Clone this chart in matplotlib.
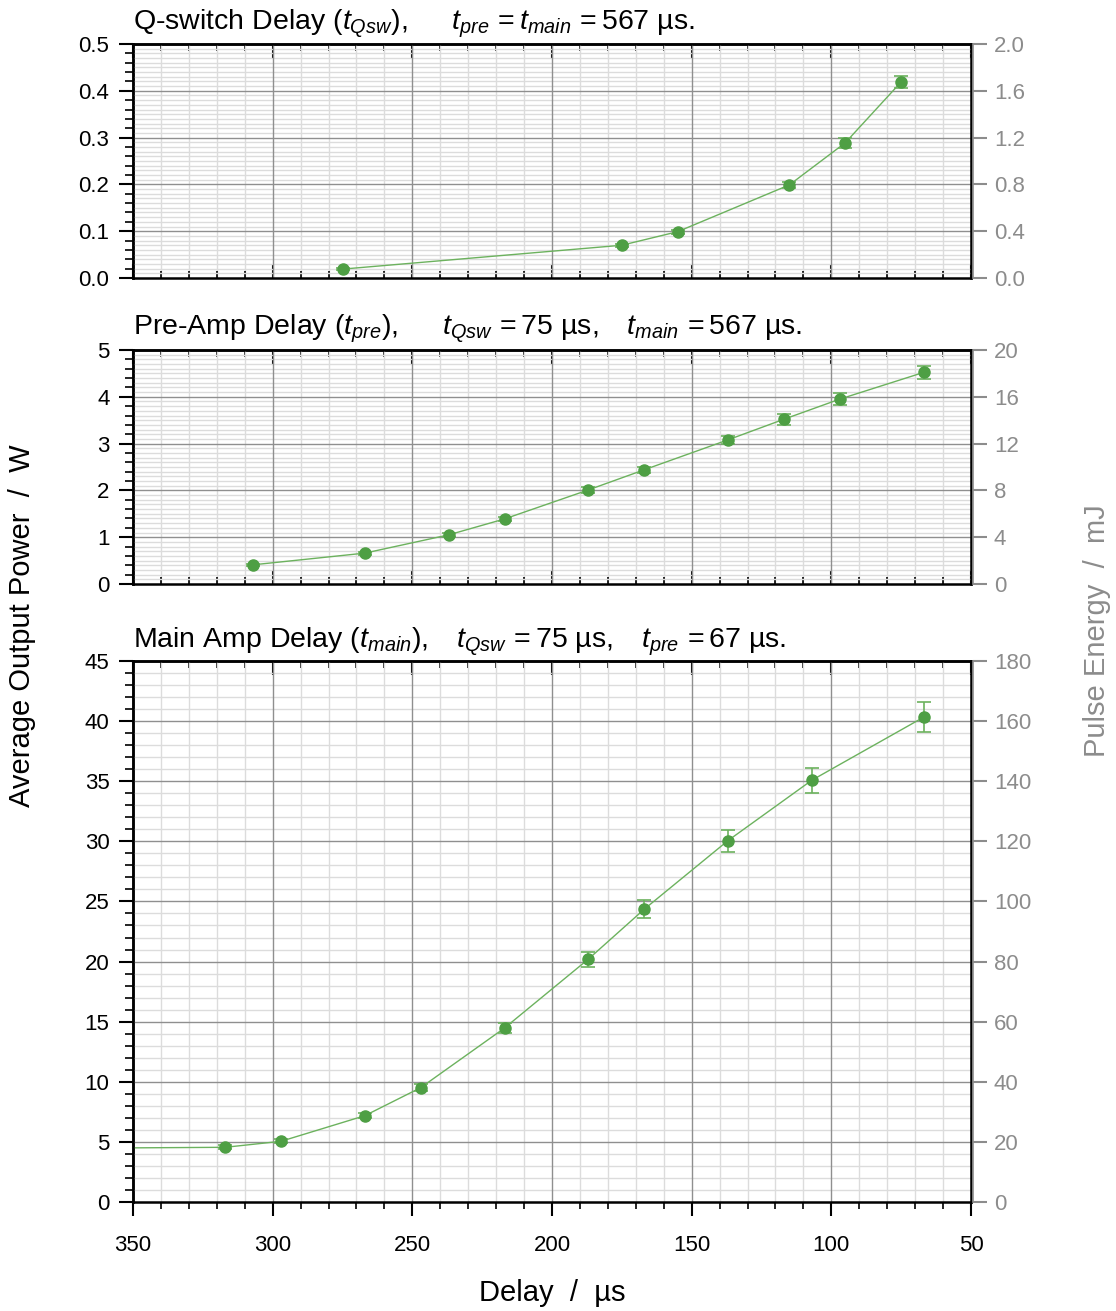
import numpy as np
import matplotlib
matplotlib.use("Agg")
import matplotlib.pyplot as plt
from matplotlib.ticker import (MultipleLocator, FixedLocator, FormatStrFormatter,
                               NullLocator)

plt.rcParams["font.family"] = ["Liberation Sans", "DejaVu Sans"]
plt.rcParams["mathtext.fontset"] = "custom"
plt.rcParams["mathtext.rm"] = "Liberation Sans"
plt.rcParams["mathtext.it"] = "Liberation Sans:italic"
plt.rcParams["mathtext.default"] = "it"

# --- Q-switch delay scan (t_pre = t_main = 567 us) ---
qsw_delay = [275, 175, 155, 115, 95, 75]
qsw_power = [0.019, 0.070, 0.099, 0.199, 0.289, 0.419]
qsw_err = [0.002, 0.003, 0.004, 0.007, 0.011, 0.013]

# --- Pre-amplifier delay scan (t_Qsw = 75 us, t_main = 567 us) ---
pre_delay = [307, 267, 237, 217, 187, 167, 137, 117, 97, 67]
pre_power = [0.41, 0.66, 1.05, 1.39, 2.01, 2.44, 3.08, 3.52, 3.95, 4.52]
pre_err = [0.02, 0.03, 0.04, 0.05, 0.06, 0.07, 0.09, 0.12, 0.13, 0.14]

# --- Main amplifier delay scan (t_Qsw = 75 us, t_pre = 67 us) ---
main_delay = [367, 317, 297, 267, 247, 217, 187, 167, 137, 107, 67]
main_power = [4.48, 4.55, 5.05, 7.18, 9.51, 14.47, 20.2, 24.35, 30.06, 35.08, 40.32]
main_err = [0.15, 0.15, 0.17, 0.22, 0.3, 0.45, 0.62, 0.76, 0.92, 1.05, 1.23]

# pulse energy (mJ) per average power (W) at 250 Hz repetition rate
energy_per_watt = 4.0

delay_ticks = [350, 300, 250, 200, 150, 100, 50]

titles = [
    r"Q-switch Delay ($t_{Qsw}$),     $\,t_{pre}\,= t_{main}\,= \mathrm{567}$ µs.",
    r"Pre-Amp Delay ($t_{pre}$),     $\,t_{Qsw}\,= \mathrm{75}$ µs,   $\,t_{main}\,= \mathrm{567}$ µs.",
    r"Main Amp Delay ($t_{main}$),   $\,t_{Qsw}\,= \mathrm{75}$ µs,   $\,t_{pre}\,= \mathrm{67}$ µs.",
]

panels = [
    dict(x=qsw_delay, y=qsw_power, e=qsw_err, ymax=0.5, major=0.1, minor=0.02,
         grid=0.01, rmajor=0.4, rfmt="%.1f", lfmt="%.1f", rect=(44, 278), title_y=30),
    dict(x=pre_delay, y=pre_power, e=pre_err, ymax=5, major=1, minor=0.2,
         grid=0.1, rmajor=4, rfmt="%d", lfmt="%d", rect=(350, 584), title_y=334),
    dict(x=main_delay, y=main_power, e=main_err, ymax=45, major=5, minor=1,
         grid=1, rmajor=20, rfmt="%d", lfmt="%d", rect=(661, 1202), title_y=647),
]

W, H = 1116, 1311
fig = plt.figure(figsize=(W / 100, H / 100), dpi=100)

left_px, right_px = 133, 971
green = "#4e9f44"
line_green = "#6cb25e"
grey = "#8c8c8c"
major_grid = "#8f8f8f"
minor_grid = "#dcdcdc"


def steps(top, step):
    n = int(round(top / step))
    return [k * step for k in range(n + 1)]


for i, p in enumerate(panels):
    top_px, bot_px = p["rect"]
    ax = fig.add_axes([left_px / W, 1 - bot_px / H,
                       (right_px - left_px) / W, (bot_px - top_px) / H])
    ax.set_xlim(350, 50)
    ax.set_ylim(0, p["ymax"])
    ax.set_axisbelow(True)

    # fine grid from the axis locators; coarse grid drawn on top of it
    ax.xaxis.set_major_locator(FixedLocator(delay_ticks))
    ax.xaxis.set_minor_locator(MultipleLocator(10))
    ax.yaxis.set_major_locator(FixedLocator(steps(p["ymax"], p["major"])))
    ax.yaxis.set_minor_locator(MultipleLocator(p["grid"]))
    ax.grid(which="minor", color=minor_grid, lw=1.0)
    ax.grid(which="major", visible=False)
    for xv in ax.xaxis.get_majorticklocs():
        ax.axvline(xv, color=major_grid, lw=1.0, zorder=0.8)
    for yv in ax.yaxis.get_majorticklocs():
        if 0 < yv < p["ymax"]:
            ax.axhline(yv, color=major_grid, lw=1.0, zorder=0.8)
    ax.tick_params(axis="y", which="both", length=0, labelleft=False)

    last = i == len(panels) - 1
    ax.tick_params(axis="x", which="both", direction="out" if last else "in",
                   bottom=True, top=False, labelbottom=last, labelsize=16,
                   pad=14, width=1.5)
    ax.tick_params(axis="x", which="major", length=10)
    ax.tick_params(axis="x", which="minor", length=5, width=1.2)
    for s in ax.spines.values():
        s.set_linewidth(1.8)
        s.set_color("black")
        s.set_zorder(5)

    # top ticks pointing inward
    sx = ax.secondary_xaxis("top")
    sx.xaxis.set_major_locator(FixedLocator(delay_ticks))
    sx.xaxis.set_minor_locator(MultipleLocator(10))
    sx.tick_params(axis="x", which="both", direction="in", labeltop=False, width=1.5)
    sx.tick_params(axis="x", which="major", length=10)
    sx.tick_params(axis="x", which="minor", length=5, width=1.2)
    sx.spines["top"].set_linewidth(1.8)

    # left power scale
    sy = ax.secondary_yaxis("left")
    sy.yaxis.set_major_locator(FixedLocator(steps(p["ymax"], p["major"])))
    sy.yaxis.set_minor_locator(MultipleLocator(p["minor"]))
    sy.yaxis.set_major_formatter(FormatStrFormatter(p["lfmt"]))
    sy.tick_params(axis="y", which="both", direction="out", labelsize=16, width=1.5)
    sy.tick_params(axis="y", which="major", length=10, pad=7)
    sy.tick_params(axis="y", which="minor", length=6, width=1.2)
    sy.spines["left"].set_linewidth(1.8)

    # measured data
    ax.plot(p["x"], p["y"], color=line_green, lw=1.0, zorder=3)
    ax.errorbar(p["x"], p["y"], yerr=p["e"], fmt="o", ms=8, color=green,
                ecolor=line_green, elinewidth=1.2, capsize=5, capthick=1.2,
                zorder=4)

    # right pulse-energy scale
    emax = p["ymax"] * energy_per_watt
    tw = ax.twinx()
    tw.set_ylim(0, emax)
    tw.yaxis.set_major_locator(FixedLocator(steps(emax, p["rmajor"])))
    tw.yaxis.set_minor_locator(NullLocator())
    tw.yaxis.set_major_formatter(FormatStrFormatter(p["rfmt"]))
    tw.tick_params(axis="y", direction="out", length=10, width=1.5,
                   color=grey, labelcolor=grey, labelsize=16, pad=5)
    for name, s in tw.spines.items():
        s.set_visible(name == "right")
    tw.spines["right"].set_color(grey)
    tw.spines["right"].set_linewidth(1.2)
    tw.spines["right"].set_position(("outward", 1.5))

    fig.text(left_px / W, 1 - p["title_y"] / H, titles[i], fontsize=20.5,
             ha="left", va="baseline")

fig.text(22 / W, 1 - 626 / H, "Average Output Power  /  W", fontsize=21,
         rotation=90, ha="center", va="center")
fig.text(1097 / W, 1 - 631 / H, "Pulse Energy  /  mJ", fontsize=21,
         rotation=90, ha="center", va="center", color=grey)
fig.text(552 / W, 1 - 1293 / H, "Delay  /  µs", fontsize=21,
         ha="center", va="center")

fig.savefig("out.png", dpi=100)
